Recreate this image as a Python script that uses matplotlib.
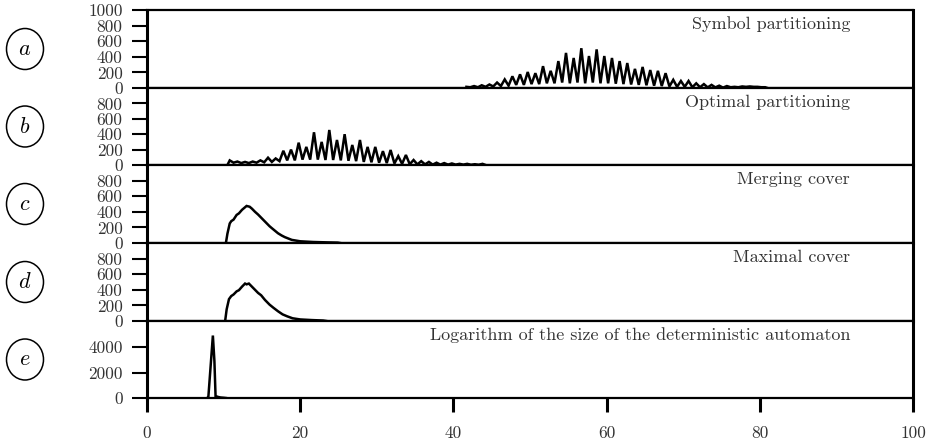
import matplotlib
matplotlib.use("Agg")
import matplotlib.pyplot as plt
from matplotlib.patches import Ellipse

plt.rcParams['mathtext.fontset'] = 'cm'
plt.rcParams['font.family'] = ['cmr10', 'DejaVu Serif']
plt.rcParams['axes.formatter.use_mathtext'] = True

# ---------------- data ----------------
panel_letters = ['a', 'b', 'c', 'd', 'e']
panel_titles = ['Symbol partitioning', 'Optimal partitioning', 'Merging cover',
                'Maximal cover', 'Logarithm of the size of the deterministic automaton']

sym_x = [41.7, 42.2, 42.7, 43.2, 43.7, 44.2, 44.7, 45.2, 45.7, 46.2, 46.7, 47.2, 47.7,
         48.2, 48.7, 49.2, 49.7, 50.2, 50.7, 51.2, 51.7, 52.2, 52.7, 53.2, 53.7, 54.2,
         54.7, 55.2, 55.7, 56.2, 56.7, 57.2, 57.7, 58.2, 58.7, 59.2, 59.7, 60.2, 60.7,
         61.2, 61.7, 62.2, 62.7, 63.2, 63.7, 64.2, 64.7, 65.2, 65.7, 66.2, 66.7, 67.2,
         67.7, 68.2, 68.7, 69.2, 69.7, 70.2, 70.7, 71.2, 71.7, 72.2, 72.7, 73.2, 73.7,
         74.2, 74.7, 75.2, 75.7, 76.2, 76.7, 77.2, 77.7, 78.2, 78.7, 79.2, 79.7, 80.2,
         80.7, 81.0]
sym_y = [15, 10, 25, 10, 35, 15, 45, 20, 70, 25, 110, 30, 150,
         40, 175, 40, 205, 50, 190, 50, 280, 60, 220, 60, 345, 70,
         450, 60, 385, 70, 510, 60, 410, 70, 495, 60, 410, 60, 385,
         55, 345, 50, 320, 45, 245, 40, 270, 35, 230, 30, 220, 25,
         190, 20, 105, 15, 90, 15, 90, 10, 60, 10, 50, 8, 40,
         8, 30, 5, 25, 10, 15, 10, 20, 15, 20, 15, 15, 10,
         10, 0]

opt_x = [10.5, 10.8, 11.3, 11.8, 12.3, 12.8, 13.3, 13.8, 14.3, 14.8, 15.3, 15.8, 16.3,
         16.8, 17.3, 17.8, 18.3, 18.8, 19.3, 19.8, 20.3, 20.8, 21.3, 21.8, 22.3, 22.8,
         23.3, 23.8, 24.3, 24.8, 25.3, 25.8, 26.3, 26.8, 27.3, 27.8, 28.3, 28.8, 29.3,
         29.8, 30.3, 30.8, 31.3, 31.8, 32.3, 32.8, 33.3, 33.8, 34.3, 34.8, 35.3, 35.8,
         36.3, 36.8, 37.3, 37.8, 38.3, 38.8, 39.3, 39.8, 40.3, 40.8, 41.3, 41.8, 42.3,
         42.8, 43.3, 43.8, 44.2]
opt_y = [0, 60, 30, 45, 25, 40, 25, 45, 30, 60, 35, 95, 40,
         85, 50, 185, 60, 200, 60, 290, 70, 235, 70, 425, 70, 300,
         65, 455, 65, 325, 60, 400, 55, 260, 50, 325, 40, 235, 35,
         235, 30, 180, 25, 195, 20, 115, 15, 130, 10, 65, 8, 50,
         8, 40, 5, 30, 5, 25, 5, 20, 5, 15, 5, 15, 3,
         10, 3, 15, 0]

merge_x = [10.3, 10.5, 10.8, 11.0, 11.3, 11.7, 12.0, 12.4, 12.7, 13.0, 13.4, 13.7, 14.1,
           14.5, 14.8, 15.4, 16.0, 16.3, 17.1, 17.6, 18.0, 18.9, 20.0, 21.7, 23.5, 24.9, 25.2]
merge_y = [0, 120, 250, 280, 300, 360, 380, 425, 450, 475, 465, 440, 400,
           365, 335, 275, 215, 190, 125, 95, 75, 40, 22, 13, 8, 5, 0]

maxc_x = [10.2, 10.4, 10.7, 11.0, 11.3, 11.7, 12.0, 12.4, 12.8, 13.0, 13.3, 13.7, 14.1,
          14.5, 14.9, 15.4, 16.0, 16.5, 17.1, 17.7, 18.3, 19.0, 20.0, 21.5, 23.0, 23.4]
maxc_y = [0, 150, 280, 320, 340, 380, 395, 440, 480, 470, 480, 440, 400,
          360, 330, 270, 210, 170, 125, 85, 60, 35, 20, 12, 6, 0]

log_x = [7.9, 8.0, 8.6, 8.8, 8.95, 9.3, 9.6, 10.0, 10.3]
log_y = [0, 0, 4900, 2900, 150, 80, 40, 20, 0]

series_x = [sym_x, opt_x, merge_x, maxc_x, log_x]
series_y = [sym_y, opt_y, merge_y, maxc_y, log_y]

yticks_list = [[0, 200, 400, 600, 800, 1000], [0, 200, 400, 600, 800],
               [0, 200, 400, 600, 800], [0, 200, 400, 600, 800], [0, 2000, 4000]]
ylims = [1000, 1000, 1000, 1000, 6040]
xticks = [0, 20, 40, 60, 80, 100]

# ---------------- figure ----------------
W, H = 938, 444
fig = plt.figure(figsize=(W / 100, H / 100), dpi=100)

left_px, right_px = 147, 913
bounds_px = [10, 88, 165, 243, 321, 398]

for i in range(5):
    top = bounds_px[i]
    bot = bounds_px[i + 1]
    ax = fig.add_axes([left_px / W, 1 - bot / H, (right_px - left_px) / W, (bot - top) / H])
    ax.plot(series_x[i], series_y[i], color='black', lw=1.8, solid_joinstyle='miter')
    ax.set_xlim(0, 100)
    ax.set_ylim(0, ylims[i])
    ax.set_yticks(yticks_list[i])
    ax.set_yticklabels([str(v) for v in yticks_list[i]], fontsize=12.5, color='#333333')
    ax.tick_params(axis='y', direction='out', length=10.5, width=1.5, pad=7)
    for s in ['top', 'bottom', 'right']:
        ax.spines[s].set_linewidth(1.6)
    ax.spines['left'].set_linewidth(2.2)
    ax.spines['right'].set_linewidth(2.2)
    if i < 4:
        ax.set_xticks([])
    else:
        ax.set_xticks(xticks)
        ax.set_xticklabels([str(v) for v in xticks], fontsize=12.5, color='#333333')
        ax.tick_params(axis='x', direction='out', length=10, width=2.2, pad=10)
    ax.text(0.918, 1 - 14 / (bot - top), panel_titles[i], transform=ax.transAxes,
            ha='right', va='center', fontsize=13, color='#333333')
    yc = 1 - (top + bot) / 2 / H
    fig.add_artist(Ellipse((25 / W, yc), 37 / W, 41 / H, transform=fig.transFigure,
                           fill=False, ec='black', lw=1.1))
    fig.text(25 / W, yc, '$' + panel_letters[i] + '$', ha='center', va='center',
             fontsize=16)

fig.savefig('out.png', dpi=100)
